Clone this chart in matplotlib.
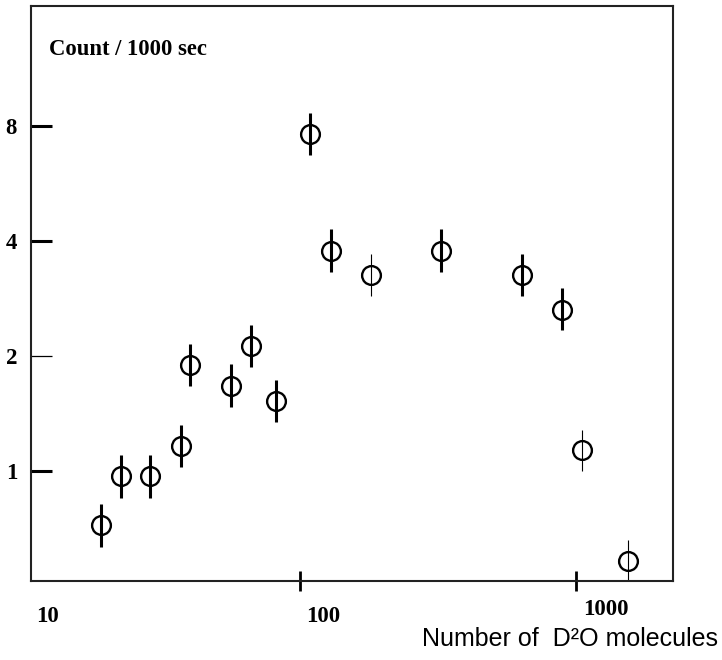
import numpy as np
import matplotlib
matplotlib.use("Agg")
import matplotlib.pyplot as plt
from matplotlib.transforms import ScaledTranslation

# ── Data ─────────────────────────────────────────────────────────────────────
n_molecules = [19.0, 22.4, 28.7, 36.9, 40.1, 56.0, 66.6, 82.0,
               109.0, 129.0, 181.0, 324.0, 635.0, 893.0, 1053.0, 1541.0]
counts = [0.72, 0.97, 0.97, 1.16, 1.89, 1.67, 2.12, 1.52,
          7.60, 3.77, 3.25, 3.77, 3.25, 2.64, 1.13, 0.58]
err_up = [0.10, 0.13, 0.13, 0.16, 0.26, 0.23, 0.29, 0.21,
          1.03, 0.51, 0.44, 0.51, 0.44, 0.36, 0.15, 0.08]
err_down = [0.09, 0.12, 0.12, 0.14, 0.22, 0.20, 0.25, 0.18,
            0.90, 0.45, 0.39, 0.45, 0.39, 0.31, 0.13, 0.07]

y_ticks = [1, 2, 4, 8]
y_tick_labels = ["1", "2", "4", "8"]
x_ticks = [100, 1000]
x_tick_labels = ["10", "100", "1000"]
x_tick_label_pos = [10, 100, 1000]

# points drawn with a thin error bar in the original
THIN = {10, 14, 15}

SERIF = ["Liberation Serif", "DejaVu Serif"]
SANS = ["Liberation Sans", "DejaVu Sans"]

fig = plt.figure(figsize=(7.22, 6.6), dpi=100)
ax = fig.add_axes([0.0429, 0.1197, 0.8899, 0.8717])
ax.set_xscale("log")
ax.set_yscale("log")
ax.set_xlim(10.6, 2254)
ax.set_ylim(0.514, 16.5)

for i, (x, y, up, dn) in enumerate(zip(n_molecules, counts, err_up, err_down)):
    lw = 0.8 if i in THIN else 2.2
    ax.errorbar([x], [y], yerr=[[dn], [up]], fmt="none", ecolor="black",
                elinewidth=lw, capsize=0, zorder=2)
ax.plot(n_molecules, counts, "o", ms=13.5, mfc="none", mec="black",
        mew=1.7, zorder=3)

for s in ax.spines.values():
    s.set_linewidth(1.5)
    s.set_color("#222222")

ax.minorticks_off()
ax.set_yticks(y_ticks)
ax.set_yticklabels(y_tick_labels, fontfamily=SERIF, fontweight="bold",
                   fontsize=16.5)
ax.tick_params(axis="y", direction="in", length=15, width=2.2, pad=10,
               right=False)
ax.yaxis.get_major_ticks()[1].tick1line.set_markeredgewidth(0.9)

ax.set_xticks(x_ticks)
ax.set_xticklabels([])
ax.tick_params(axis="x", direction="inout", length=14, width=2.0, top=False)
ax.tick_params(which="minor", length=0)

# x tick labels sit offset to the right of their ticks in the original
offsets = [(0.24, -0.36), (0.23, -0.36), (0.30, -0.29)]
for pos, lab, (dx, dy) in zip(x_tick_label_pos, x_tick_labels, offsets):
    tr = ax.get_xaxis_transform() + ScaledTranslation(dx, dy, fig.dpi_scale_trans)
    ax.text(pos, 0, lab, transform=tr, ha="center", va="center",
            fontfamily=SERIF, fontweight="bold", fontsize=16.5, clip_on=False)

ax.text(0.028, 0.923, "Count / 1000 sec", transform=ax.transAxes,
        ha="left", va="center", fontfamily=SERIF, fontweight="bold",
        fontsize=16.3)

fig.text(0.9945, 0.032, "Number of  D²O molecules", ha="right", va="center",
         fontfamily=SANS, fontsize=18)

fig.savefig("out.png", dpi=100)
